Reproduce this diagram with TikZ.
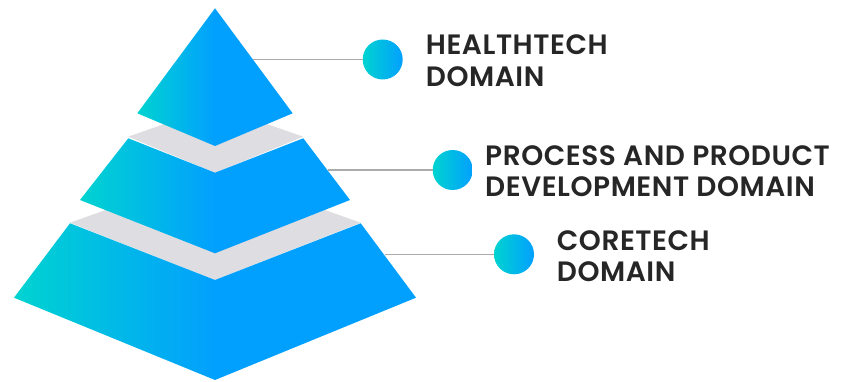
\documentclass[tikz,border=0pt]{standalone}
\usepackage{fontspec}
\setmainfont{Poppins}[BoldFont={Poppins SemiBold},LetterSpace=2]
\definecolor{pcyan}{HTML}{00D3D0}
\definecolor{pblue}{HTML}{02A0FE}
\definecolor{pgray}{HTML}{DEDDE1}
\definecolor{pline}{HTML}{ABABAB}
\definecolor{ptext}{HTML}{262626}
\pgfdeclarehorizontalshading{pyrshade}{100bp}{color(0bp)=(pcyan); color(25bp)=(pcyan); color(50bp)=(pblue); color(100bp)=(pblue)}
\tikzset{
	layer/.style={shading=pyrshade},
	band/.style={fill=pgray},
	dot/.style={circle,minimum size=40pt,inner sep=0pt,left color=pcyan,right color=pblue},
	leader/.style={draw=pline,line width=1.3pt},
	lbl/.style={anchor=north west,inner sep=0pt,align=left,text=ptext,font=\bfseries\fontsize{28}{31.7}\selectfont}
}
\begin{document}
\begin{tikzpicture}[x=1pt,y=-1pt]
		\useasboundingbox (0,0) rectangle (841,382);
		% gray bands
		\fill[band] (128.3,136.7) -- (215,106) -- (303.3,136.7) -- (215,172.7) -- cycle;
		\fill[band] (70,222.7) -- (215,171) -- (360.7,222.7) -- (215,280) -- cycle;
		% layers
		\path[layer] (215,8.3) -- (292.7,113.3) -- (215,146) -- (137.3,113.3) -- cycle;
		\path[layer] (128.3,138.3) -- (215,172.7) -- (303.3,138.3) -- (350,200) -- (215,253.3) -- (80,200) -- cycle;
		\path[layer] (70,223.3) -- (215,280) -- (360.7,223.3) -- (416,297.7) -- (215,380) -- (14,297.7) -- cycle;
		% leaders
		\coordinate (e1) at (253,59.5);
		\coordinate (e2) at (328,170);
		\coordinate (e3) at (385,254.3);
		\node[dot] (d1) at (382.7,59.5) {};
		\node[dot] (d2) at (452.7,170) {};
		\node[dot] (d3) at (514,254.3) {};
		\draw[leader] (e1) -- (d1);
		\draw[leader] (e2) -- (d2);
		\draw[leader] (e3) -- (d3);
		\node[lbl] (t1) at (425.7,35) {HEALTHTECH\\DOMAIN};
		\node[lbl] (t2) at (485,145) {PROCESS AND PRODUCT\\DEVELOPMENT DOMAIN};
		\node[lbl] (t3) at (556.7,230) {CORETECH\\DOMAIN};
	\end{tikzpicture}
\end{document}
